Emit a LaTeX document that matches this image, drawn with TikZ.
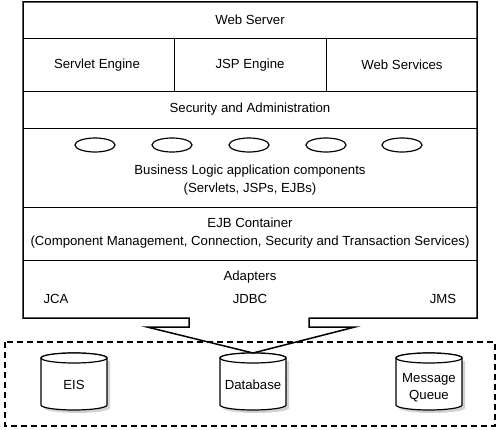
\documentclass[tikz,border=0pt]{standalone}
\usepackage{fontspec}
\setmainfont{Liberation Sans}
\usetikzlibrary{shapes.geometric}

\begin{document}
\begin{tikzpicture}[x=1pt, y=-1pt,
        every node/.style={align=center, font=\fontsize{13.2}{16}\selectfont},
        frame/.style={line width=1.5pt, line join=miter},
        layer/.style={line width=0.9pt},
        comp/.style={ellipse, draw, line width=1.2pt, minimum width=40pt, minimum height=14pt, inner sep=0pt},
        store/.style={line width=1.2pt, fill=white},
        shade/.style={fill=gray!35},
        tier/.style={line width=1.5pt, dash pattern=on 6pt off 4pt}
    ]
        \useasboundingbox (0,0) rectangle (500,430);

        % resources
        \draw[tier] (5,342) rectangle (495,426);
        \foreach \x in {74, 253, 429} {
            \fill[shade] (\x-30,361) -- (\x-30,408) arc[start angle=180, end angle=360, x radius=33pt, y radius=5pt]
                -- (\x+36,361) -- cycle;
            \draw[store] (\x-33,358) -- (\x-33,405) arc[start angle=180, end angle=360, x radius=33pt, y radius=5pt]
                -- (\x+33,358) arc[start angle=0, end angle=180, x radius=33pt, y radius=5pt] -- cycle;
            \draw[store] (\x,358) ellipse [x radius=33pt, y radius=5pt];
        }
        \coordinate (dbtop) at (253,353);
        \node (eis) at (74,385) {EIS};
        \node (db)  at (253,385) {Database};
        \node (mq)  at (429,388) {Message\\[1pt]Queue};

        % application server frame
        \draw[frame] (189,318) -- (23,318) -- (23,2) -- (477,2) -- (477,318) -- (309,318) -- (309,327)
            -- (355,327) -- (dbtop) -- (147,327) -- (189,327) -- cycle;

        \draw[layer] (23,38) -- (477,38);
        \draw[layer] (23,91) -- (477,91);
        \draw[layer] (23,128) -- (477,128);
        \draw[layer] (23,207) -- (477,207);
        \draw[layer] (23,260) -- (477,260);
        \draw[layer] (174,38) -- (174,91);
        \draw[layer] (326,38) -- (326,91);

        \node (web) at (250,20) {Web Server};
        \node (servlet) at (97,65) {Servlet Engine};
        \node (jsp) at (250,65) {JSP Engine};
        \node (ws) at (402,65) {Web Services};
        \node (sec) at (250,109) {Security and Administration};

        \foreach \i/\x in {1/95, 2/172, 3/249, 4/326, 5/402}
            \node[comp] (c\i) at (\x,145) {};
        \node (bl) at (250,180) {Business Logic application components\\[2pt](Servlets, JSPs, EJBs)};

        \node (ejb) at (250,233) {EJB Container\\[2pt](Component Management, Connection, Security and Transaction Services)};

        \node (adp) at (250,277) {Adapters};
        \node (jca) at (56,299) {JCA};
        \node (jdbc) at (250,299) {JDBC};
        \node (jms) at (443,299) {JMS};
    \end{tikzpicture}
\end{document}
